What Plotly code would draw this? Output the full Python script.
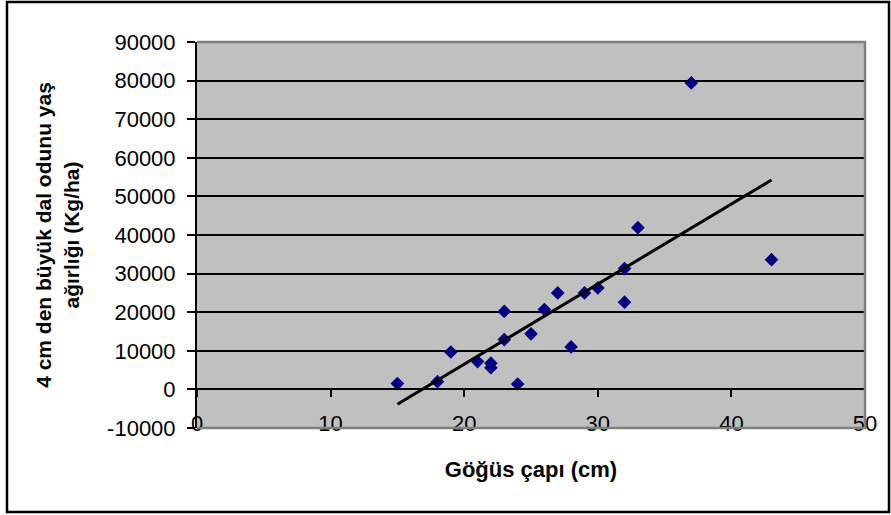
import numpy as np
import plotly.graph_objects as go

# ---- data ----
diameter_cm = [15, 18, 19, 21, 22, 22, 23, 23, 24, 25, 26, 27, 28, 29, 30, 32, 32, 33, 37, 43]
weight_kg_ha = [1500, 2000, 9700, 7200, 6800, 5600, 20200, 12900, 1400, 14400,
                20700, 25000, 11000, 25000, 26300, 31300, 22600, 41900, 79400, 33600]
x_ticks = [0, 10, 20, 30, 40, 50]
y_ticks = [-10000, 0, 10000, 20000, 30000, 40000, 50000, 60000, 70000, 80000, 90000]
x_title = "Göğüs çapı (cm)"
y_title = "4 cm den büyük dal odunu yaş<br>ağırlığı (Kg/ha)"

# linear trend line (least squares), drawn over the data's x range
slope, intercept = np.polyfit(diameter_cm, weight_kg_ha, 1)
trend_x = [min(diameter_cm), max(diameter_cm)]
trend_y = [slope * v + intercept for v in trend_x]

W, H = 891, 515
ML, MR, MT, MB = 197, 26, 42, 87
FONT = "Liberation Sans, Arial, sans-serif"

fig = go.Figure()
fig.add_trace(go.Scatter(
    x=diameter_cm, y=weight_kg_ha, mode="markers",
    marker=dict(symbol="diamond", size=10.5, color="#000080", line=dict(width=0)),
    showlegend=False, hoverinfo="x+y"))
fig.add_trace(go.Scatter(
    x=trend_x, y=trend_y, mode="lines", xaxis="x2",
    line=dict(color="black", width=3), showlegend=False, hoverinfo="skip"))

pw = W - ML - MR
ph = H - MT - MB

def px_to_paper_x(px):
    return (px - ML) / pw

def px_to_paper_y(py):
    return (H - MB - py) / ph

fig.update_layout(
    width=W, height=H,
    margin=dict(l=ML, r=MR, t=MT, b=MB, autoexpand=False),
    paper_bgcolor="white", plot_bgcolor="#C0C0C0",
    font=dict(family=FONT, color="black"),
    xaxis=dict(
        range=[0, 50], tickmode="array", tickvals=x_ticks,
        ticktext=[str(v) for v in x_ticks],
        showgrid=False, zeroline=False, showline=False, ticks="",
        tickfont=dict(size=22, family=FONT, color="black"),
        ticklabelstandoff=-20,
        title=dict(text="<b>" + x_title + "</b>",
                   font=dict(size=22, family=FONT, color="black"), standoff=26),
        automargin=False,
    ),
    xaxis2=dict(
        overlaying="x", anchor="free", position=0.1, range=[0, 50],
        tickmode="array", tickvals=x_ticks, showticklabels=False,
        ticks="outside", ticklen=7, tickwidth=1.5, tickcolor="black",
        showline=True, linecolor="black", linewidth=2,
        showgrid=False, zeroline=False,
    ),
    yaxis=dict(
        range=[-10000, 90000], tickmode="array", tickvals=y_ticks,
        ticktext=[str(v) for v in y_ticks],
        showgrid=True, gridcolor="black", gridwidth=1.5,
        zeroline=False, showline=True, linecolor="black", linewidth=2,
        ticks="outside", ticklen=8, tickwidth=1.5, tickcolor="black",
        tickfont=dict(size=22, family=FONT, color="black"),
        ticklabelstandoff=7,
        title=dict(text="<b>" + y_title + "</b>",
                   font=dict(size=21, family=FONT, color="black"), standoff=22),
        automargin=False,
    ),
    shapes=[
        # gray plot-area border on top, right and bottom
        dict(type="path", xref="x domain", yref="y domain",
             path="M 0,1 L 1,1 L 1,0 L 0,0",
             line=dict(color="#808080", width=2.5), layer="above"),
        # outer chart border
        dict(type="rect", xref="paper", yref="paper",
             x0=px_to_paper_x(7), x1=px_to_paper_x(889),
             y0=px_to_paper_y(512), y1=px_to_paper_y(2),
             line=dict(color="black", width=2.5), fillcolor="rgba(0,0,0,0)",
             layer="above"),
    ],
)

fig.write_html("out.html", config={"displayModeBar": False},
               post_script="document.body.style.margin='0';")
